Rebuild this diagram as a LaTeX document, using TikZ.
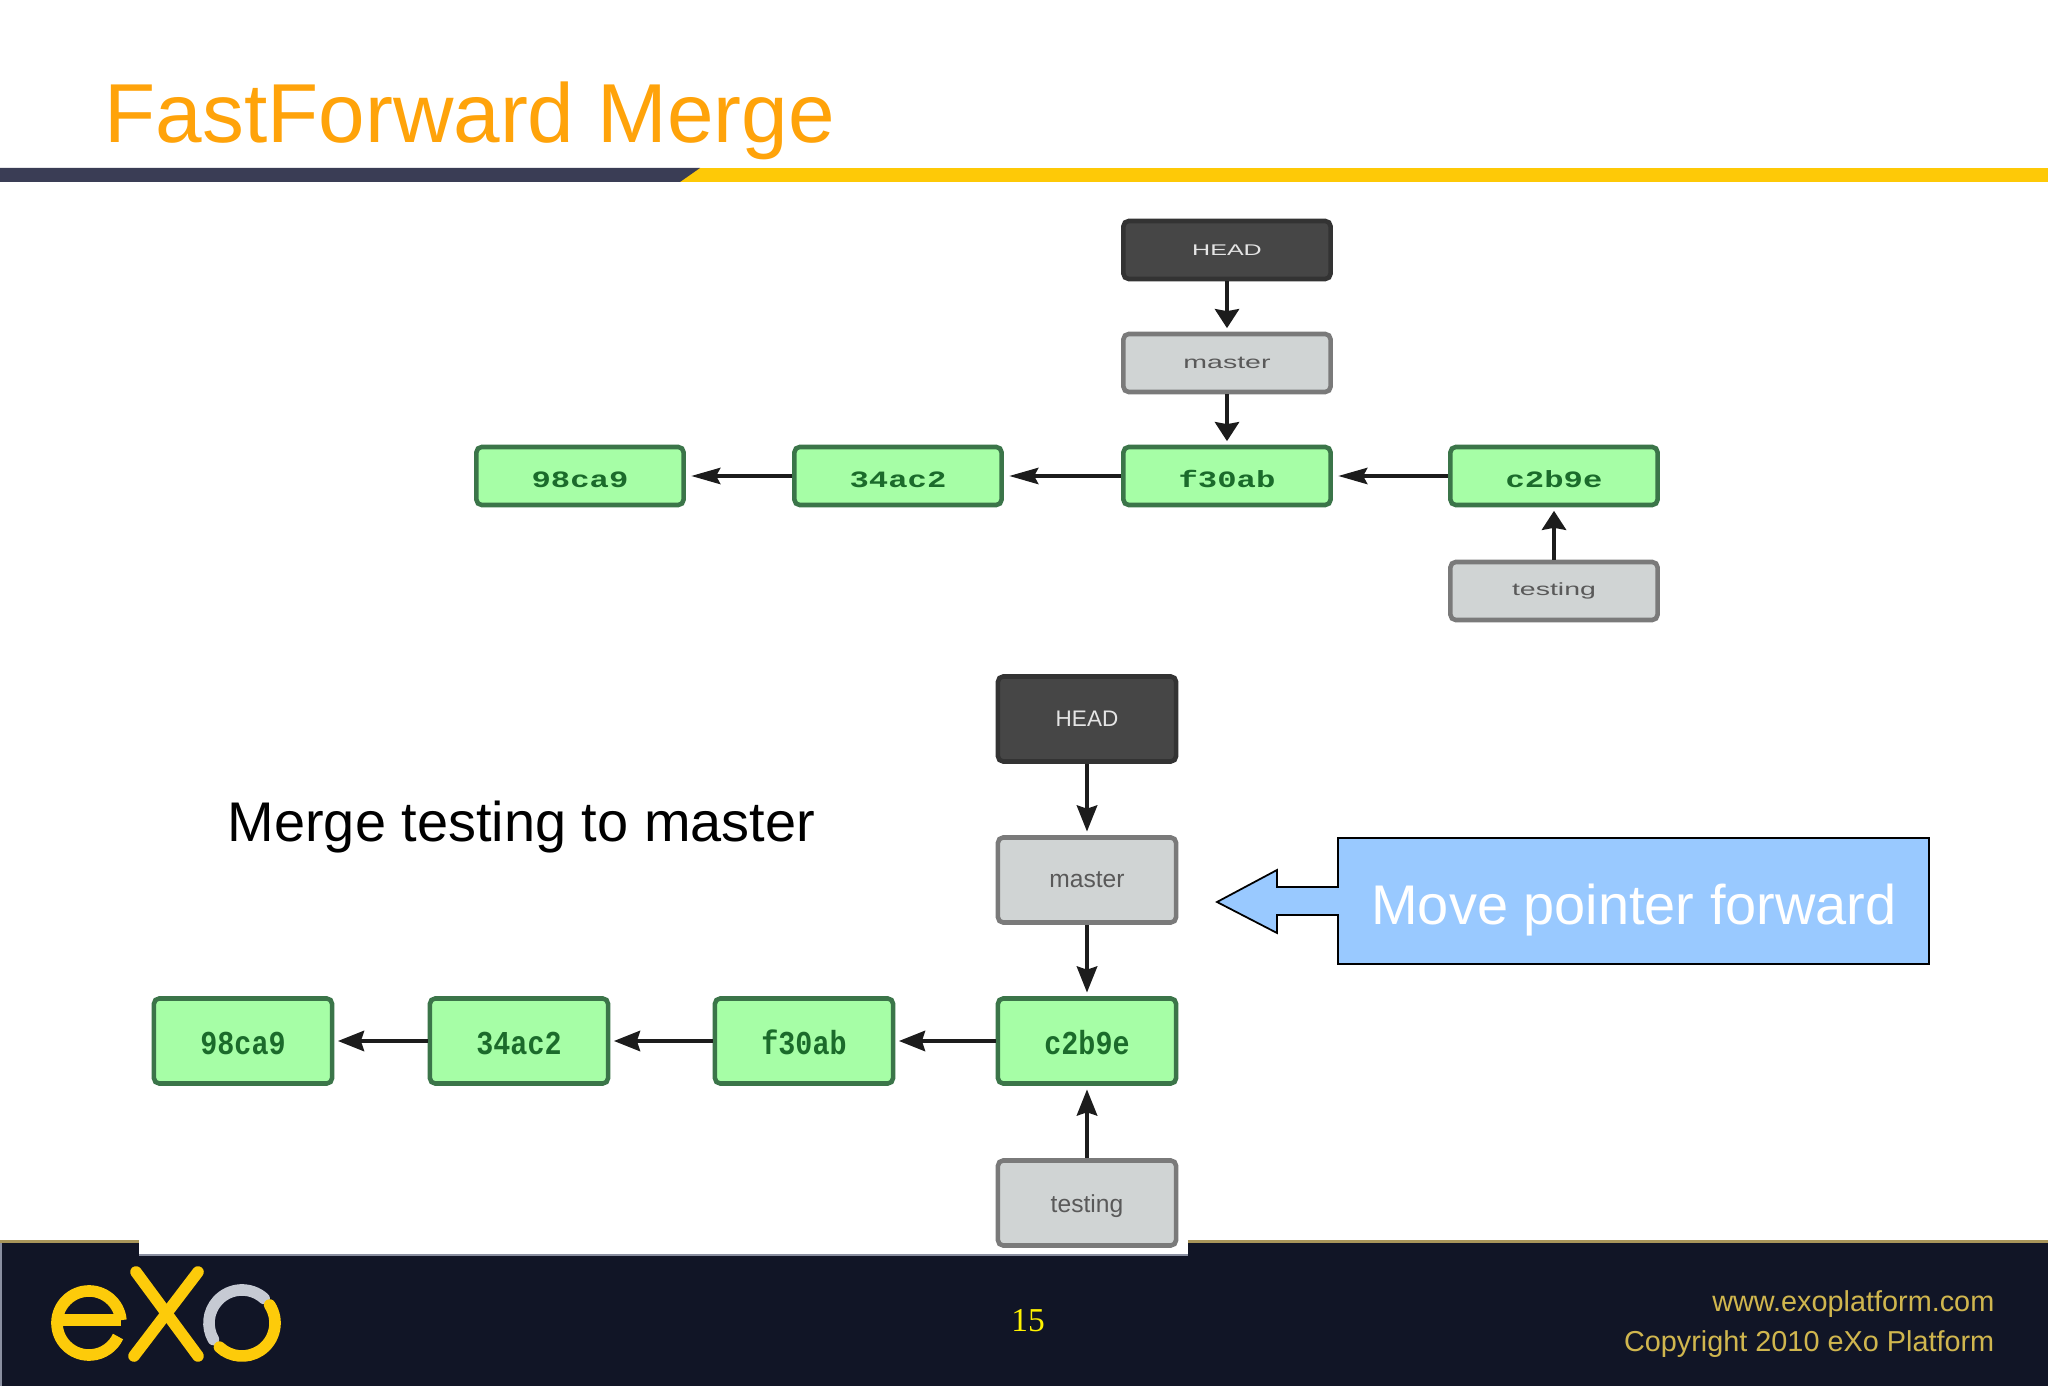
\documentclass[tikz,border=0pt]{standalone}
\usepackage{fontspec}
\usepackage{xcolor}
\usetikzlibrary{arrows.meta}
\setmainfont{Liberation Sans}
\newfontfamily\topmono[FakeStretch=1.38]{Liberation Mono}
\newfontfamily\lowmono[FakeStretch=0.85]{Liberation Mono}
\newfontfamily\topsans[FakeStretch=1.62]{Liberation Sans}
\newfontfamily\timesfont{Liberation Serif}

\definecolor{titleorange}{HTML}{FFA30A}
\definecolor{bardark}{HTML}{3A3D55}
\definecolor{baryellow}{HTML}{FEC907}
\definecolor{footdark}{HTML}{111526}
\definecolor{footgold}{HTML}{A8955A}
\definecolor{footedge}{HTML}{8A8FA0}
\definecolor{foottext}{HTML}{D0B64E}
\definecolor{commitfill}{HTML}{A6FEA6}
\definecolor{commitline}{HTML}{3B7549}
\definecolor{committext}{HTML}{1B6B2B}
\definecolor{reffill}{HTML}{D0D4D4}
\definecolor{refline}{HTML}{7A7A7A}
\definecolor{headfill}{HTML}{464646}
\definecolor{headline}{HTML}{333333}
\definecolor{calloutblue}{HTML}{99C9FF}
\definecolor{logoyellow}{HTML}{FDCB0A}
\definecolor{logogrey}{HTML}{C6CAD3}
\definecolor{linkdark}{HTML}{1C1C1C}

\tikzset{
	box/.style={draw,rounded corners=1.5pt,inner sep=0pt,line width=1.3pt},
	topbox/.style={box,minimum width=2.07cm,minimum height=0.58cm},
	lowbox/.style={box,minimum width=1.78cm,minimum height=0.85cm},
	commit/.style={fill=commitfill,draw=commitline,text=committext,text depth=0pt},
	ref/.style={fill=reffill,draw=refline,text=black!65},
	headref/.style={fill=headfill,draw=headline,text=white!90!black},
	toplink/.style={draw=linkdark,line width=1.25pt,-{Stealth[length=0.29cm,width=0.16cm,inset=0.04cm]},shorten >=1.5pt},
	topuplink/.style={draw=linkdark,line width=1.4pt,-{Stealth[length=0.19cm,width=0.24cm,inset=0.02cm]},shorten >=1pt},
	lowlink/.style={draw=linkdark,line width=1.35pt,-{Stealth[length=0.26cm,width=0.2cm,inset=0.03cm]},shorten >=1pt},
	logostroke/.style={line width=3.3pt,line cap=round,draw=logoyellow}
}

\begin{document}
\begin{tikzpicture}[x=0.01cm,y=-0.01cm]
	\useasboundingbox (0,0) rectangle (2048,1386);
	\fill[white] (0,0) rectangle (2048,1386);

	% header
	\node[anchor=base west,inner sep=0pt,text=titleorange,font=\fontsize{23.8}{28}\selectfont] (title) at (104,142.5) {FastForward Merge};
	\fill[baryellow] (680,168) rectangle (2048,182);
	\fill[bardark] (0,168) -- (700,168) -- (680,182) -- (0,182) -- cycle;

	% footer
	\fill[footdark] (0,1241) rectangle (2048,1386);
	\fill[white] (139,1230) rectangle (1188,1254);
	\fill[footedge] (139,1254) rectangle (1188,1255.5);
	\fill[footgold] (0,1240) rectangle (139,1243);
	\fill[footgold] (1188,1240) rectangle (2048,1243);
	\fill[footedge] (0,1243) rectangle (2,1386);
	\node[text=yellow,inner sep=0pt,font=\timesfont\fontsize{9.5}{12}\selectfont] (page) at (1028,1321) {15};
	\node[anchor=base east,inner sep=0pt,text=foottext,font=\fontsize{8.2}{10}\selectfont] (site) at (1995,1311) {www.exoplatform.com};
	\node[anchor=base east,inner sep=0pt,text=foottext,font=\fontsize{8.2}{10}\selectfont] (copy) at (1995,1351) {Copyright 2010 eXo Platform};

	% logo
	\draw[logostroke,line cap=butt] (89,1323) ++(5:0.32cm) arc[start angle=5,end angle=335,radius=0.32cm];
	\draw[logostroke,line cap=butt] (57,1320) -- (121,1320);
	\draw[logostroke] (136,1272) -- (198,1356);
	\draw[logostroke] (198,1272) -- (134,1356);
	\draw[logostroke,draw=logogrey] (242,1323) ++(48:0.33cm) arc[start angle=48,end angle=210,radius=0.33cm];
	\draw[logostroke] (242,1323) ++(33:0.33cm) arc[start angle=33,end angle=-133,radius=0.33cm];

	% first graph
	\foreach \lab/\x in {98ca9/580,34ac2/898,f30ab/1227,c2b9e/1554}
	\node[topbox,commit,text height=6.3pt,font=\topmono\bfseries\fontsize{6.65}{8}\selectfont] (t\lab) at (\x,476) {\lab};
	\node[topbox,headref,font=\topsans\fontsize{4.4}{6}\selectfont] (thead) at (1227,250) {HEAD};
	\node[topbox,ref,font=\topsans\fontsize{5}{6}\selectfont] (tmaster) at (1227,363) {master};
	\node[topbox,ref,font=\topsans\fontsize{5}{6}\selectfont] (ttesting) at (1554,591) {testing};

	\draw[topuplink] (thead) -- (tmaster);
	\draw[topuplink] (tmaster) -- (tf30ab);
	\draw[topuplink] (ttesting) -- (tc2b9e);
	\draw[toplink] (tc2b9e) -- (tf30ab);
	\draw[toplink] (tf30ab) -- (t34ac2);
	\draw[toplink] (t34ac2) -- (t98ca9);

	% second graph
	\foreach \lab/\x in {98ca9/243,34ac2/519,f30ab/804,c2b9e/1087}
	\node[lowbox,commit,text height=7.8pt,font=\lowmono\bfseries\fontsize{9.5}{11}\selectfont] (l\lab) at (\x,1041) {\lab};
	\node[lowbox,headref,font=\fontsize{6.4}{8}\selectfont] (lhead) at (1087,719) {HEAD};
	\node[lowbox,ref,font=\fontsize{7}{8}\selectfont] (lmaster) at (1087,880) {master};
	\node[lowbox,ref,text height=5.4pt,text depth=0pt,font=\fontsize{7}{8}\selectfont] (ltesting) at (1087,1203) {testing};

	\draw[lowlink] (lhead) -- (lmaster);
	\draw[lowlink] (lmaster) -- (lc2b9e);
	\draw[lowlink] (ltesting) -- (lc2b9e);
	\draw[lowlink] (lc2b9e) -- (lf30ab);
	\draw[lowlink] (lf30ab) -- (l34ac2);
	\draw[lowlink] (l34ac2) -- (l98ca9);

	% texts
	\node[anchor=base west,inner sep=0pt,font=\fontsize{15.9}{19}\selectfont] (merge) at (227,842) {Merge testing to master};
	\filldraw[fill=calloutblue,draw=black,line width=0.5pt]
	(1338,838) -- (1929,838) -- (1929,964) -- (1338,964) -- (1338,915) -- (1277,915) -- (1277,933) -- (1217,902) -- (1277,870) -- (1277,887) -- (1338,887) -- cycle;
	\node[anchor=base,inner sep=0pt,text=white,font=\fontsize{15.9}{19}\selectfont] (move) at (1634,925) {Move pointer forward};
\end{tikzpicture}
\end{document}
